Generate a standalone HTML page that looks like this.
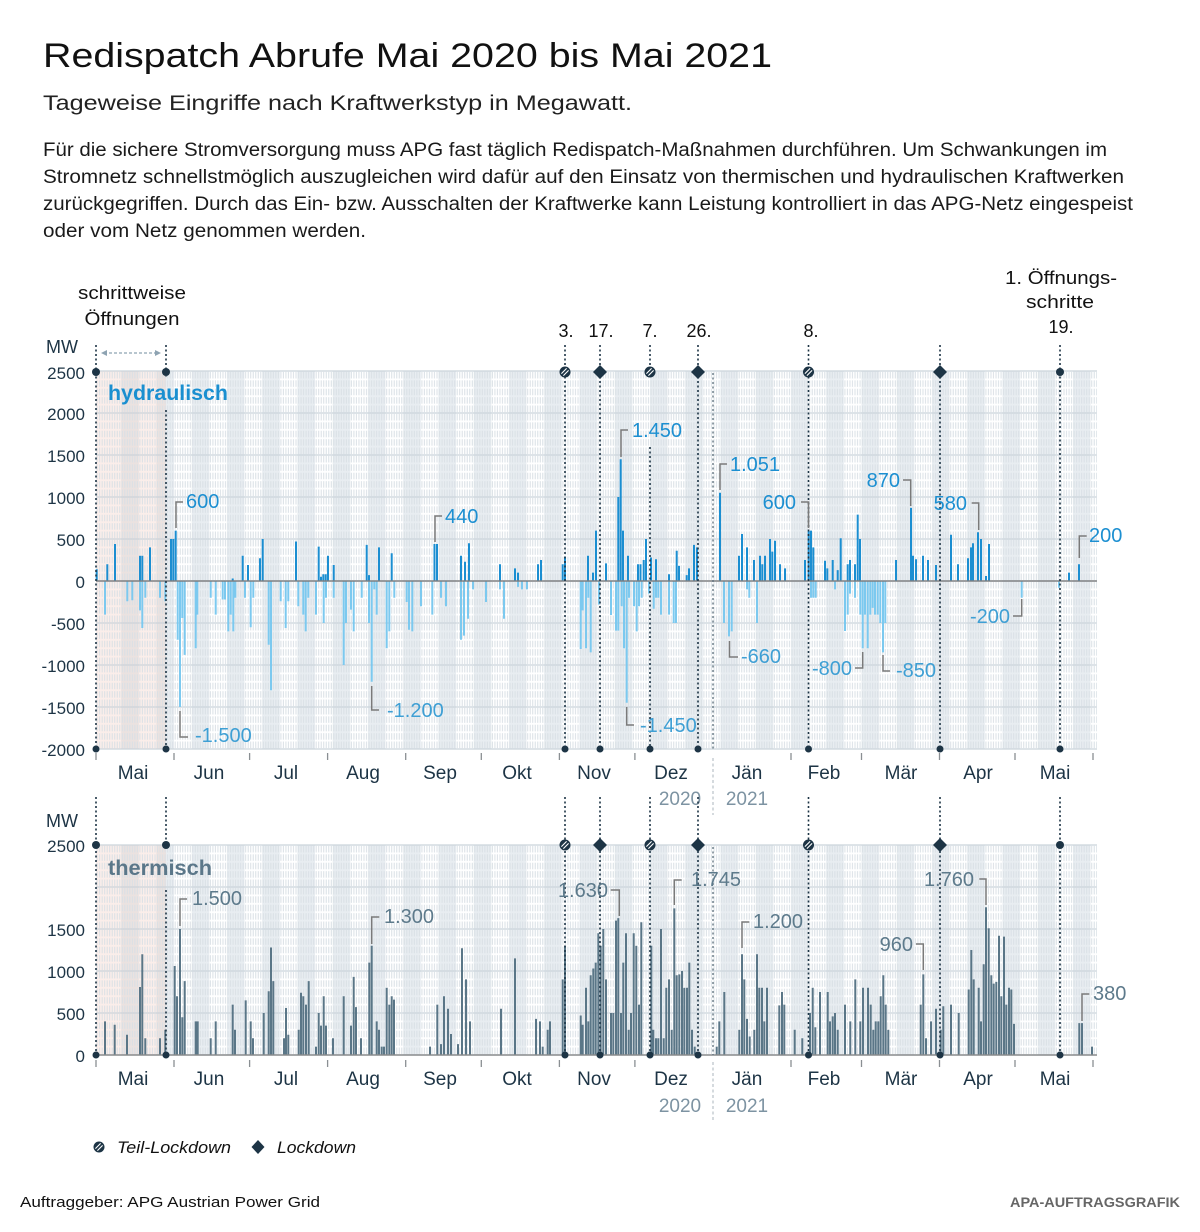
<!DOCTYPE html>
<html><head><meta charset="utf-8"><style>
html,body{margin:0;padding:0;background:#fff;}
svg{display:block;}
text{font-family:"Liberation Sans",Arial,sans-serif;}
</style></head><body>
<svg width="1200" height="1232" viewBox="0 0 1200 1232" xmlns="http://www.w3.org/2000/svg">
<defs>
<pattern id="gt" patternUnits="userSpaceOnUse" x="96" y="371" width="2.518" height="8.4"><rect x="0.6" y="0.9" width="1" height="6.6" fill="#d9e0e5"/></pattern>
<pattern id="gb" patternUnits="userSpaceOnUse" x="96" y="845" width="2.518" height="8.4"><rect x="0.6" y="0.9" width="1" height="6.6" fill="#d9e0e5"/></pattern>
<g id="teil"><circle r="5.5" fill="#1d3445"/><path d="M-3.6 1.6 L1.6 -3.6 M-1.6 3.6 L3.6 -1.6" stroke="#fff" stroke-width="1.1"/></g>
<g id="lock"><polygon points="0,-7 7,0 0,7 -7,0" fill="#1d3445"/></g>
<g id="bands">
<rect x="121.2" width="17.6" height="1"/><rect x="156.4" width="17.6" height="1"/><rect x="191.7" width="17.6" height="1"/><rect x="226.9" width="17.6" height="1"/><rect x="262.2" width="17.6" height="1"/><rect x="297.4" width="17.6" height="1"/><rect x="332.7" width="17.6" height="1"/><rect x="367.9" width="17.6" height="1"/><rect x="403.2" width="17.6" height="1"/><rect x="438.4" width="17.6" height="1"/><rect x="473.7" width="17.6" height="1"/><rect x="508.9" width="17.6" height="1"/><rect x="544.2" width="17.6" height="1"/><rect x="579.5" width="17.6" height="1"/><rect x="614.7" width="17.6" height="1"/><rect x="650.0" width="17.6" height="1"/><rect x="685.2" width="17.6" height="1"/><rect x="720.5" width="17.6" height="1"/><rect x="755.7" width="17.6" height="1"/><rect x="791.0" width="17.6" height="1"/><rect x="826.2" width="17.6" height="1"/><rect x="861.5" width="17.6" height="1"/><rect x="896.7" width="17.6" height="1"/><rect x="932.0" width="17.6" height="1"/><rect x="967.2" width="17.6" height="1"/><rect x="1002.5" width="17.6" height="1"/><rect x="1037.7" width="17.6" height="1"/><rect x="1073.0" width="17.6" height="1"/>
</g>
</defs>

<!-- Header -->
<text x="43" y="67" font-size="34" fill="#111" textLength="729" lengthAdjust="spacingAndGlyphs">Redispatch Abrufe Mai 2020 bis Mai 2021</text>
<text x="43" y="110" font-size="21" fill="#222" textLength="589" lengthAdjust="spacingAndGlyphs">Tageweise Eingriffe nach Kraftwerkstyp in Megawatt.</text>
<g font-size="19" fill="#1a1a1a">
<text x="43" y="156" textLength="1064" lengthAdjust="spacingAndGlyphs">Für die sichere Stromversorgung muss APG fast täglich Redispatch-Maßnahmen durchführen. Um Schwankungen im</text>
<text x="43" y="183" textLength="1081" lengthAdjust="spacingAndGlyphs">Stromnetz schnellstmöglich auszugleichen wird dafür auf den Einsatz von thermischen und hydraulischen Kraftwerken</text>
<text x="43" y="210" textLength="1090" lengthAdjust="spacingAndGlyphs">zurückgegriffen. Durch das Ein- bzw. Ausschalten der Kraftwerke kann Leistung kontrolliert in das APG-Netz eingespeist</text>
<text x="43" y="237" textLength="323" lengthAdjust="spacingAndGlyphs">oder vom Netz genommen werden.</text>
</g>

<!-- Event labels -->
<g font-size="18" fill="#111" text-anchor="middle">
<text x="132" y="299" textLength="108" lengthAdjust="spacingAndGlyphs">schrittweise</text>
<text x="132" y="325" textLength="95" lengthAdjust="spacingAndGlyphs">Öffnungen</text>
<text x="566" y="337">3.</text>
<text x="601" y="337">17.</text>
<text x="650" y="337">7.</text>
<text x="699" y="337">26.</text>
<text x="811" y="337">8.</text>
<text x="1061" y="284" textLength="112" lengthAdjust="spacingAndGlyphs">1. Öffnungs-</text>
<text x="1060" y="308" textLength="68" lengthAdjust="spacingAndGlyphs">schritte</text>
<text x="1061" y="333">19.</text>
</g>
<!-- arrow -->
<g stroke="#8ea3b2" stroke-width="1.2" fill="#8ea3b2">
<line x1="104" y1="353" x2="158" y2="353" stroke-dasharray="3 2"/>
<polygon points="101,353 107,350 107,356" stroke="none"/>
<polygon points="161,353 155,350 155,356" stroke="none"/>
</g>

<!-- ============ TOP CHART ============ -->
<g transform="translate(0,371) scale(1,378)" fill="#e8edf1"><use href="#bands"/></g>
<rect x="96" y="371" width="70" height="378" fill="#f2c9bf" opacity="0.32"/>
<rect x="96" y="371" width="1001" height="378" fill="url(#gt)"/>
<g stroke="#c9d3da" stroke-width="1.2">
<line x1="96" y1="371" x2="1097" y2="371"/><line x1="96" y1="413" x2="1097" y2="413"/><line x1="96" y1="455" x2="1097" y2="455"/><line x1="96" y1="497" x2="1097" y2="497"/><line x1="96" y1="539" x2="1097" y2="539"/><line x1="96" y1="623" x2="1097" y2="623"/><line x1="96" y1="665" x2="1097" y2="665"/><line x1="96" y1="707" x2="1097" y2="707"/><line x1="96" y1="749" x2="1097" y2="749"/>
</g>
<!-- y labels top -->
<text x="46" y="353" font-size="18" fill="#1d3445">MW</text>
<g font-size="17" fill="#1d3445" text-anchor="end">
<text x="85" y="379">2500</text><text x="85" y="420">2000</text><text x="85" y="462">1500</text><text x="85" y="504">1000</text><text x="85" y="546">500</text><text x="85" y="588">0</text><text x="85" y="630">-500</text><text x="85" y="672">-1000</text><text x="85" y="714">-1500</text><text x="85" y="756">-2000</text>
</g>
<text x="108" y="400" font-size="21" font-weight="bold" fill="#1a8fd0" textLength="120" lengthAdjust="spacingAndGlyphs">hydraulisch</text>

<!-- hydraulic positive -->
<path fill="#1b8ed1" d="M95.7 581v-11.8h2v11.8zM106.3 581v-16.8h2v16.8zM114 581v-37h2v37zM139 581v-25.2h2v25.2zM141.3 581v-25.2h2v25.2zM149 581v-33.6h2v33.6zM170 581v-42h2v42zM172.3 581v-42h2v42zM174.7 581v-50.4h2v50.4zM231.7 581v-2.5h2v2.5zM241.7 581v-25.2h2v25.2zM247 581v-16h2v16zM259 581v-22.7h2v22.7zM261.7 581v-42h2v42zM295 581v-39.5h2v39.5zM317.7 581v-34.4h2v34.4zM320 581v-4.2h2v4.2zM322.3 581v-6.7h2v6.7zM324.7 581v-6.7h2v6.7zM327 581v-25.2h2v25.2zM332.7 581v-16h2v16zM365.7 581v-36.1h2v36.1zM368 581v-5.9h2v5.9zM378 581v-33.6h2v33.6zM390.7 581v-27.7h2v27.7zM433.5 581v-37h2v37zM436 581v-37h2v37zM460 581v-25.2h2v25.2zM464 581v-19.3h2v19.3zM468 581v-37.8h2v37.8zM499 581v-16.8h2v16.8zM514 581v-12.6h2v12.6zM517 581v-8.4h2v8.4zM537 581v-16.8h2v16.8zM540 581v-21h2v21zM561.7 581v-16.8h2v16.8zM564 581v-24.4h2v24.4zM587 581v-25.2h2v25.2zM592 581v-8.4h2v8.4zM595 581v-50.4h2v50.4zM605 581v-17.6h2v17.6zM617.3 581v-84h2v84zM619.7 581v-121.8h2v121.8zM622 581v-50.4h2v50.4zM627 581v-25.2h2v25.2zM637 581v-16.8h2v16.8zM639.5 581v-16.8h2v16.8zM642.7 581v-21h2v21zM645 581v-42h2v42zM650 581v-23.5h2v23.5zM655 581v-21.8h2v21.8zM668 581v-6.7h2v6.7zM675.7 581v-30.2h2v30.2zM678 581v-15.1h2v15.1zM685.7 581v-5.9h2v5.9zM688 581v-12.6h2v12.6zM693 581v-36.1h2v36.1zM696 581v-33.6h2v33.6zM719 581v-88.3h2v88.3zM738 581v-25.2h2v25.2zM741 581v-47h2v47zM746 581v-33.6h2v33.6zM753 581v-21h2v21zM759 581v-25.2h2v25.2zM761.3 581v-16.8h2v16.8zM764 581v-25.2h2v25.2zM769 581v-42h2v42zM771.3 581v-29.4h2v29.4zM774 581v-40.3h2v40.3zM779 581v-16.8h2v16.8zM784 581v-12.6h2v12.6zM804 581v-21h2v21zM807.7 581v-50.4h2v50.4zM810 581v-50.4h2v50.4zM812.3 581v-33.6h2v33.6zM824 581v-20.2h2v20.2zM826.3 581v-12.6h2v12.6zM831.7 581v-21h2v21zM836.7 581v-10.9h2v10.9zM839.7 581v-42.8h2v42.8zM846.7 581v-16.8h2v16.8zM849 581v-21h2v21zM854 581v-16.8h2v16.8zM856.7 581v-66.4h2v66.4zM859 581v-42h2v42zM895 581v-21h2v21zM910 581v-73.1h2v73.1zM912 581v-25.2h2v25.2zM915 581v-21.8h2v21.8zM922 581v-25.2h2v25.2zM927 581v-21h2v21zM935 581v-16h2v16zM950 581v-46.2h2v46.2zM957 581v-16.8h2v16.8zM967 581v-22.7h2v22.7zM970 581v-33.6h2v33.6zM972 581v-37.8h2v37.8zM977 581v-48.7h2v48.7zM980 581v-42h2v42zM985 581v-5h2v5zM988 581v-37h2v37zM1068 581v-8.4h2v8.4zM1078 581v-16.8h2v16.8z"/>
<!-- hydraulic negative -->
<path fill="#7cc9ef" d="M104 581v33.6h2v-33.6zM126.3 581v20.2h2v-20.2zM131.3 581v19.3h2v-19.3zM139 581v29.4h2v-29.4zM141.3 581v47h2v-47zM144.3 581v16.8h2v-16.8zM159 581v16.8h2v-16.8zM164.3 581v20.2h2v-20.2zM176.7 581v58.8h2v-58.8zM179 581v126h2v-126zM181.3 581v37h2v-37zM183.7 581v73.9h2v-73.9zM194.7 581v67.2h2v-67.2zM196.3 581v33.6h2v-33.6zM209.7 581v16.8h2v-16.8zM214.7 581v33.6h2v-33.6zM221.7 581v18.5h2v-18.5zM224 581v18.5h2v-18.5zM227.3 581v50.4h2v-50.4zM229.7 581v33.6h2v-33.6zM232.3 581v50.4h2v-50.4zM234.3 581v16.8h2v-16.8zM244 581v16.8h2v-16.8zM249.7 581v46.2h2v-46.2zM252.3 581v16.8h2v-16.8zM267.7 581v63.8h2v-63.8zM270 581v109.2h2v-109.2zM279.7 581v20.2h2v-20.2zM284.7 581v47h2v-47zM287.3 581v20.2h2v-20.2zM297.3 581v25.2h2v-25.2zM302.3 581v33.6h2v-33.6zM304.7 581v50.4h2v-50.4zM307.3 581v16.8h2v-16.8zM315 581v33.6h2v-33.6zM322.7 581v42h2v-42zM325 581v16.8h2v-16.8zM332.7 581v16.8h2v-16.8zM342.7 581v84h2v-84zM345 581v42h2v-42zM350 581v28.6h2v-28.6zM352.7 581v50.4h2v-50.4zM360.7 581v16.8h2v-16.8zM368 581v42h2v-42zM370.7 581v100.8h2v-100.8zM373.3 581v8.4h2v-8.4zM375.7 581v33.6h2v-33.6zM385.7 581v67.2h2v-67.2zM388.3 581v50.4h2v-50.4zM393.3 581v16.8h2v-16.8zM405.7 581v21h2v-21zM408 581v48.7h2v-48.7zM411.3 581v50.4h2v-50.4zM420 581v25.2h2v-25.2zM431.3 581v33.6h2v-33.6zM440 581v16.8h2v-16.8zM445 581v25.2h2v-25.2zM460 581v58.8h2v-58.8zM463 581v54.6h2v-54.6zM467 581v37.8h2v-37.8zM472 581v8.4h2v-8.4zM485 581v21h2v-21zM499 581v8.4h2v-8.4zM503 581v37.8h2v-37.8zM517 581v5.9h2v-5.9zM521 581v8.4h2v-8.4zM526 581v8.4h2v-8.4zM579.7 581v68h2v-68zM581.7 581v29.4h2v-29.4zM585 581v67.2h2v-67.2zM587.3 581v16.8h2v-16.8zM589.7 581v71.4h2v-71.4zM598 581v23.5h2v-23.5zM610 581v34h2v-34zM615 581v49.6h2v-49.6zM617.3 581v49.6h2v-49.6zM620.7 581v25.2h2v-25.2zM623 581v67.2h2v-67.2zM625.7 581v121.8h2v-121.8zM628 581v16.8h2v-16.8zM633 581v25.2h2v-25.2zM635.7 581v50.4h2v-50.4zM638 581v25.2h2v-25.2zM640.7 581v16.8h2v-16.8zM648 581v12.6h2v-12.6zM652.7 581v27.7h2v-27.7zM655 581v16.8h2v-16.8zM657.3 581v16.8h2v-16.8zM660 581v33.6h2v-33.6zM668 581v33.6h2v-33.6zM672.7 581v42h2v-42zM675 581v42h2v-42zM723 581v42h2v-42zM728 581v55.4h2v-55.4zM730.7 581v50.4h2v-50.4zM746 581v8.4h2v-8.4zM748.3 581v16.8h2v-16.8zM756 581v42h2v-42zM810 581v16.8h2v-16.8zM812.3 581v16.8h2v-16.8zM814.7 581v16.8h2v-16.8zM834 581v8.4h2v-8.4zM844 581v50h2v-50zM846.7 581v33.6h2v-33.6zM849 581v12.6h2v-12.6zM854 581v16.8h2v-16.8zM859.3 581v33.6h2v-33.6zM861.7 581v67.2h2v-67.2zM864 581v33.6h2v-33.6zM866.7 581v67.2h2v-67.2zM869.3 581v33.6h2v-33.6zM871.7 581v26.9h2v-26.9zM874 581v33.6h2v-33.6zM876.7 581v33.6h2v-33.6zM879.3 581v42h2v-42zM882 581v71.4h2v-71.4zM884.3 581v42h2v-42zM1020.7 581v16.8h2v-16.8zM1058 581v6.7h2v-6.7z"/>
<line x1="96" y1="581" x2="1097" y2="581" stroke="#7d7f81" stroke-width="1.5"/>

<!-- ============ BOTTOM CHART ============ -->
<g transform="translate(0,845) scale(1,210)" fill="#e8edf1"><use href="#bands"/></g>
<rect x="96" y="845" width="70" height="210" fill="#f2c9bf" opacity="0.32"/>
<rect x="96" y="845" width="1001" height="210" fill="url(#gb)"/>
<g stroke="#c9d3da" stroke-width="1.2">
<line x1="96" y1="845" x2="1097" y2="845"/><line x1="96" y1="887" x2="1097" y2="887"/><line x1="96" y1="929" x2="1097" y2="929"/><line x1="96" y1="971" x2="1097" y2="971"/><line x1="96" y1="1013" x2="1097" y2="1013"/>
</g>
<text x="46" y="827" font-size="18" fill="#1d3445">MW</text>
<g font-size="17" fill="#1d3445" text-anchor="end">
<text x="85" y="852">2500</text><text x="85" y="936">1500</text><text x="85" y="978">1000</text><text x="85" y="1020">500</text><text x="85" y="1062">0</text>
</g>
<text x="108" y="875" font-size="21" font-weight="bold" fill="#5b7789" textLength="104" lengthAdjust="spacingAndGlyphs">thermisch</text>

<path fill="#5a7687" d="M104 1055v-33.6h2v33.6zM113.7 1055v-30.2h2v30.2zM126 1055v-20.2h2v20.2zM139 1055v-68h2v68zM141.3 1055v-100.8h2v100.8zM144.3 1055v-16.8h2v16.8zM159 1055v-16.8h2v16.8zM164.3 1055v-25.2h2v25.2zM173.7 1055v-89h2v89zM176 1055v-58.8h2v58.8zM179 1055v-126h2v126zM181.3 1055v-37.8h2v37.8zM183.7 1055v-73.9h2v73.9zM194.7 1055v-33.6h2v33.6zM196.7 1055v-33.6h2v33.6zM209.7 1055v-16.8h2v16.8zM214.7 1055v-33.6h2v33.6zM231.7 1055v-50.4h2v50.4zM234 1055v-25.2h2v25.2zM244.7 1055v-54.6h2v54.6zM249.7 1055v-33.6h2v33.6zM252 1055v-16.8h2v16.8zM262.7 1055v-42h2v42zM267.7 1055v-63.8h2v63.8zM270 1055v-107.5h2v107.5zM272.3 1055v-73.9h2v73.9zM283 1055v-16.8h2v16.8zM285 1055v-47h2v47zM287.3 1055v-20.2h2v20.2zM297.7 1055v-25.2h2v25.2zM300 1055v-62.2h2v62.2zM302.3 1055v-58.8h2v58.8zM305 1055v-50.4h2v50.4zM307.7 1055v-73.9h2v73.9zM315 1055v-8.4h2v8.4zM317.7 1055v-42h2v42zM320 1055v-29.4h2v29.4zM322.7 1055v-58.8h2v58.8zM325 1055v-29.4h2v29.4zM332 1055v-16.8h2v16.8zM342.7 1055v-58.8h2v58.8zM350 1055v-29.4h2v29.4zM352.7 1055v-78.1h2v78.1zM355 1055v-47.9h2v47.9zM360 1055v-16.8h2v16.8zM368.3 1055v-92.4h2v92.4zM370.7 1055v-109.2h2v109.2zM375.7 1055v-33.6h2v33.6zM378 1055v-25.2h2v25.2zM380.7 1055v-8.4h2v8.4zM383 1055v-8.4h2v8.4zM385.7 1055v-67.2h2v67.2zM388.3 1055v-50.4h2v50.4zM390.7 1055v-58.8h2v58.8zM393 1055v-55.4h2v55.4zM429 1055v-8.4h2v8.4zM436.3 1055v-50.4h2v50.4zM440 1055v-10.9h2v10.9zM443 1055v-58.8h2v58.8zM447 1055v-46.2h2v46.2zM450 1055v-21h2v21zM457 1055v-10.9h2v10.9zM461 1055v-106.7h2v106.7zM465 1055v-75.6h2v75.6zM469 1055v-33.6h2v33.6zM500 1055v-46.2h2v46.2zM514 1055v-96.6h2v96.6zM535 1055v-36.1h2v36.1zM539 1055v-33.6h2v33.6zM541.7 1055v-8.4h2v8.4zM546.7 1055v-25.2h2v25.2zM549 1055v-33.6h2v33.6zM561.7 1055v-75.6h2v75.6zM564 1055v-109.2h2v109.2zM579.7 1055v-39.5h2v39.5zM581.7 1055v-30.2h2v30.2zM585 1055v-67.2h2v67.2zM587.3 1055v-33.6h2v33.6zM589.7 1055v-79.8h2v79.8zM592.3 1055v-86.5h2v86.5zM594.7 1055v-92.4h2v92.4zM597.3 1055v-121.8h2v121.8zM599.7 1055v-109.2h2v109.2zM602.3 1055v-126h2v126zM605 1055v-75.6h2v75.6zM610 1055v-42h2v42zM612.3 1055v-42h2v42zM615 1055v-134.4h2v134.4zM617.3 1055v-136.9h2v136.9zM620 1055v-42h2v42zM622.3 1055v-92.4h2v92.4zM625 1055v-121.8h2v121.8zM627.7 1055v-25.2h2v25.2zM630 1055v-42h2v42zM632.7 1055v-121.8h2v121.8zM635.3 1055v-109.2h2v109.2zM638 1055v-50.4h2v50.4zM640.3 1055v-132.7h2v132.7zM650.3 1055v-109.2h2v109.2zM652.3 1055v-25.2h2v25.2zM655 1055v-16.8h2v16.8zM657.3 1055v-16.8h2v16.8zM660 1055v-126h2v126zM662.7 1055v-16.8h2v16.8zM665.3 1055v-67.2h2v67.2zM668 1055v-75.6h2v75.6zM670.7 1055v-25.2h2v25.2zM673.3 1055v-146.6h2v146.6zM675.7 1055v-79.8h2v79.8zM678.3 1055v-80.6h2v80.6zM681 1055v-84h2v84zM683.3 1055v-67.2h2v67.2zM686 1055v-67.2h2v67.2zM688.3 1055v-92.4h2v92.4zM691 1055v-25.2h2v25.2zM693.7 1055v-8.4h2v8.4zM715.7 1055v-8.4h2v8.4zM718.3 1055v-33.6h2v33.6zM723.3 1055v-63h2v63zM738.3 1055v-25.2h2v25.2zM741 1055v-100.8h2v100.8zM743.3 1055v-75.6h2v75.6zM746 1055v-36.1h2v36.1zM748.7 1055v-18.5h2v18.5zM753.3 1055v-25.2h2v25.2zM756 1055v-100.8h2v100.8zM758.3 1055v-67.2h2v67.2zM761 1055v-67.2h2v67.2zM763.3 1055v-33.6h2v33.6zM766 1055v-67.2h2v67.2zM778.3 1055v-49.6h2v49.6zM781 1055v-63h2v63zM783.3 1055v-50.4h2v50.4zM793.7 1055v-25.2h2v25.2zM801.3 1055v-16.8h2v16.8zM809 1055v-42h2v42zM811.7 1055v-67.2h2v67.2zM814.3 1055v-27.7h2v27.7zM819 1055v-63h2v63zM826.7 1055v-63h2v63zM829 1055v-33.6h2v33.6zM831.7 1055v-38.6h2v38.6zM834 1055v-42h2v42zM836.7 1055v-25.2h2v25.2zM844 1055v-50.4h2v50.4zM849.3 1055v-33.6h2v33.6zM854.3 1055v-75.6h2v75.6zM859.3 1055v-33.6h2v33.6zM862 1055v-67.2h2v67.2zM867 1055v-67.2h2v67.2zM869.7 1055v-50.4h2v50.4zM872.3 1055v-25.2h2v25.2zM874.7 1055v-33.6h2v33.6zM877.3 1055v-33.6h2v33.6zM879.7 1055v-58.8h2v58.8zM882.3 1055v-79.8h2v79.8zM884.7 1055v-50.4h2v50.4zM887.3 1055v-25.2h2v25.2zM919.7 1055v-50.4h2v50.4zM922.3 1055v-80.6h2v80.6zM925 1055v-16.8h2v16.8zM930 1055v-33.6h2v33.6zM935 1055v-46.2h2v46.2zM939.7 1055v-25.2h2v25.2zM942.3 1055v-48.7h2v48.7zM950 1055v-50.4h2v50.4zM957.7 1055v-42h2v42zM967.7 1055v-65.5h2v65.5zM970.3 1055v-105h2v105zM972.7 1055v-75.6h2v75.6zM977.7 1055v-67.2h2v67.2zM980 1055v-33.6h2v33.6zM982.7 1055v-90.7h2v90.7zM985 1055v-147.8h2v147.8zM987.7 1055v-126.8h2v126.8zM990.3 1055v-79.8h2v79.8zM992.7 1055v-71.4h2v71.4zM995.3 1055v-73.1h2v73.1zM998 1055v-119.3h2v119.3zM1000.3 1055v-58.8h2v58.8zM1003 1055v-118.4h2v118.4zM1005.3 1055v-50.4h2v50.4zM1008 1055v-67.2h2v67.2zM1010.3 1055v-65.5h2v65.5zM1013 1055v-31.1h2v31.1zM1078.3 1055v-31.9h2v31.9zM1081 1055v-31.9h2v31.9zM1091 1055v-8.4h2v8.4z"/>
<line x1="96" y1="1055" x2="1097" y2="1055" stroke="#878a8c" stroke-width="1.5"/>

<!-- month ticks -->
<g stroke="#8a8f93" stroke-width="1.3">
<path d="M96 753v7M174 753v7M249.6 753v7M327.6 753v7M405.7 753v7M481.3 753v7M559.4 753v7M634.9 753v7M791 753v7M861.5 753v7M939.5 753v7M1015 753v7M1093 753v7"/>
<path d="M96 1060v7M174 1060v7M249.6 1060v7M327.6 1060v7M405.7 1060v7M481.3 1060v7M559.4 1060v7M634.9 1060v7M791 1060v7M861.5 1060v7M939.5 1060v7M1015 1060v7M1093 1060v7"/>
</g>
<!-- year divider -->
<g stroke="#b9c2c8" stroke-width="1.2" stroke-dasharray="3 2.5">
<line x1="713" y1="758" x2="713" y2="815"/><line x1="713" y1="1062" x2="713" y2="1120"/>
</g>
<g stroke="#5f717d" stroke-width="1.3" stroke-dasharray="2 2.5">
<line x1="713" y1="373" x2="713" y2="749"/><line x1="713" y1="847" x2="713" y2="1055"/>
</g>

<!-- month labels -->
<g font-size="19" fill="#1d3445" text-anchor="middle">
<text x="133" y="779">Mai</text><text x="209" y="779">Jun</text><text x="286" y="779">Jul</text><text x="363" y="779">Aug</text><text x="440" y="779">Sep</text><text x="517" y="779">Okt</text><text x="594" y="779">Nov</text><text x="671" y="779">Dez</text><text x="747" y="779">Jän</text><text x="824" y="779">Feb</text><text x="901" y="779">Mär</text><text x="978" y="779">Apr</text><text x="1055" y="779">Mai</text>
<text x="133" y="1085">Mai</text><text x="209" y="1085">Jun</text><text x="286" y="1085">Jul</text><text x="363" y="1085">Aug</text><text x="440" y="1085">Sep</text><text x="517" y="1085">Okt</text><text x="594" y="1085">Nov</text><text x="671" y="1085">Dez</text><text x="747" y="1085">Jän</text><text x="824" y="1085">Feb</text><text x="901" y="1085">Mär</text><text x="978" y="1085">Apr</text><text x="1055" y="1085">Mai</text>
</g>
<g font-size="19" fill="#7d93a2" text-anchor="middle">
<text x="680" y="805">2020</text><text x="747" y="805">2021</text>
<text x="680" y="1112">2020</text><text x="747" y="1112">2021</text>
</g>

<!-- event dotted lines -->
<g stroke="#1d3445" stroke-width="1.6" stroke-dasharray="2 2.5" fill="none">
<path d="M96 345V749M166 345V377M166 410V749M565 345V749M600 345V749M650 345V377M650 447V749M698 345V749M808.5 345V749M940 345V749M1060 345V749"/>
<path d="M96 797V1055M166 797V849M166 890V1055M565 797V1055M600 797V1055M650 797V1055M698 797V1055M808.5 797V1055M940 797V1055M1060 797V1055"/>
</g>
<!-- markers -->
<g fill="#1d3445">
<circle cx="96" cy="372" r="4"/><circle cx="166" cy="372" r="4"/><circle cx="1060" cy="372" r="4"/>
<circle cx="96" cy="845" r="4"/><circle cx="166" cy="845" r="4"/><circle cx="1060" cy="845" r="4"/>
<circle cx="96" cy="749" r="3.5"/><circle cx="166" cy="749" r="3.5"/><circle cx="565" cy="749" r="3.5"/><circle cx="600" cy="749" r="3.5"/><circle cx="650" cy="749" r="3.5"/><circle cx="698" cy="749" r="3.5"/><circle cx="808.5" cy="749" r="3.5"/><circle cx="940" cy="749" r="3.5"/><circle cx="1060" cy="749" r="3.5"/>
<circle cx="96" cy="1055" r="3.5"/><circle cx="166" cy="1055" r="3.5"/><circle cx="565" cy="1055" r="3.5"/><circle cx="600" cy="1055" r="3.5"/><circle cx="650" cy="1055" r="3.5"/><circle cx="698" cy="1055" r="3.5"/><circle cx="808.5" cy="1055" r="3.5"/><circle cx="940" cy="1055" r="3.5"/><circle cx="1060" cy="1055" r="3.5"/>
</g>
<use href="#teil" x="565" y="372"/><use href="#teil" x="650" y="372"/><use href="#teil" x="808.5" y="372"/>
<use href="#lock" x="600" y="372"/><use href="#lock" x="698" y="372"/><use href="#lock" x="940" y="372"/>
<use href="#teil" x="565" y="845"/><use href="#teil" x="650" y="845"/><use href="#teil" x="808.5" y="845"/>
<use href="#lock" x="600" y="845"/><use href="#lock" x="698" y="845"/><use href="#lock" x="940" y="845"/>

<!-- annotations leaders -->
<g stroke="#7a7a7a" stroke-width="1.5" fill="none">
<path d="M176 528V502H183"/>
<path d="M180 711V737H188"/>
<path d="M371.7 686V710H379"/>
<path d="M435 542V516H442"/>
<path d="M621 457V430H628"/>
<path d="M626.7 707V725H634"/>
<path d="M720 490V464H727"/>
<path d="M729.5 641V657H738"/>
<path d="M801 502H808.5V528"/>
<path d="M855 668H862.7V652"/>
<path d="M883 655V671H890"/>
<path d="M903 480H910.7V506"/>
<path d="M971.7 503H978.7V530"/>
<path d="M1013 616H1021.7V599"/>
<path d="M1079.3 558V536H1086.7"/>
<path d="M180 926V899H187"/>
<path d="M371.7 944V917H379.3"/>
<path d="M610.7 890H619.3V916"/>
<path d="M674.3 905V880H681.7"/>
<path d="M742 948V922H749.3"/>
<path d="M979.3 879H986V905"/>
<path d="M916 944H923.3V970"/>
<path d="M1082 1021V994H1089.3"/>
</g>
<g font-size="20">
<g fill="#1c8fd1">
<text x="186" y="508">600</text>
<text x="445" y="523">440</text>
<text x="632" y="437">1.450</text>
<text x="730" y="471">1.051</text>
<text x="796" y="509" text-anchor="end">600</text>
<text x="900" y="487" text-anchor="end">870</text>
<text x="967" y="510" text-anchor="end">580</text>
<text x="1089" y="542">200</text>
</g>
<g fill="#3e9fd4">
<text x="195" y="742">-1.500</text>
<text x="387" y="717">-1.200</text>
<text x="640" y="732">-1.450</text>
<text x="741" y="663">-660</text>
<text x="852" y="675" text-anchor="end">-800</text>
<text x="896" y="677">-850</text>
<text x="1010" y="623" text-anchor="end">-200</text>
</g>
<g fill="#5d7a8b">
<text x="192" y="905">1.500</text>
<text x="384" y="923">1.300</text>
<text x="608" y="897" text-anchor="end">1.630</text>
<text x="691" y="886">1.745</text>
<text x="753" y="928">1.200</text>
<text x="974" y="886" text-anchor="end">1.760</text>
<text x="913" y="951" text-anchor="end">960</text>
<text x="1093" y="1000">380</text>
</g>
</g>

<!-- legend -->
<use href="#teil" x="99" y="1147"/>
<text x="117" y="1153" font-size="17" font-style="italic" fill="#111" textLength="114" lengthAdjust="spacingAndGlyphs">Teil-Lockdown</text>
<polygon points="258,1140 264.5,1147 258,1154 251.5,1147" fill="#1d3445"/>
<text x="277" y="1153" font-size="17" font-style="italic" fill="#111" textLength="79" lengthAdjust="spacingAndGlyphs">Lockdown</text>

<!-- footer -->
<text x="20" y="1207" font-size="15" fill="#111" textLength="300" lengthAdjust="spacingAndGlyphs">Auftraggeber: APG Austrian Power Grid</text>
<text x="1180" y="1207" font-size="14" font-weight="bold" fill="#666" text-anchor="end" textLength="170" lengthAdjust="spacingAndGlyphs">APA-AUFTRAGSGRAFIK</text>
</svg>
</body></html>
